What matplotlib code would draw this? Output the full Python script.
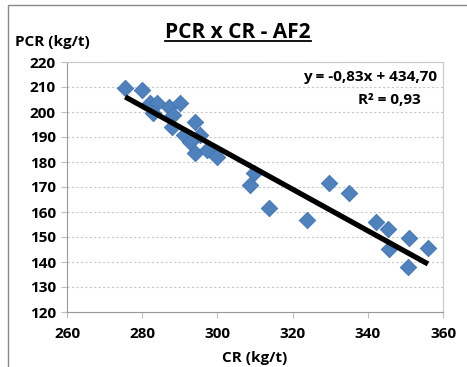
import matplotlib.pyplot as plt
import numpy as np

plt.rcParams['font.family'] = ['Open Sans', 'DejaVu Sans']
plt.rcParams['font.weight'] = 'bold'

# CR (kg/t) and PCR (kg/t)
cr = [275.5, 280.0, 282.1, 283.9, 283.0, 287.0, 290.1, 288.3, 294.1, 287.9,
      291.0, 292.8, 295.5, 294.1, 297.2, 299.9, 309.7, 308.8, 313.7, 323.9,
      329.7, 335.0, 342.1, 345.5, 345.7, 351.0, 350.6, 356.0]
pcr = [209.6, 209.0, 203.5, 203.5, 199.5, 202.0, 203.5, 198.8, 196.1, 194.1,
       190.8, 188.1, 190.8, 183.5, 184.8, 182.1, 175.5, 170.8, 161.5, 156.8,
       171.5, 167.7, 156.1, 153.1, 145.1, 149.5, 138.1, 145.5]

slope, intercept = -0.83, 434.70
x_ticks = [260, 280, 300, 320, 340, 360]
y_ticks = list(range(120, 221, 10))

fig = plt.figure(figsize=(4.67, 3.67), dpi=100)
ax = fig.add_axes([67 / 467, 1 - 312 / 367, 376 / 467, 250 / 367])

ax.scatter(cr, pcr, marker='D', s=70, color='#4F81BD', edgecolors='#3F74B3',
           linewidths=0.6, zorder=3)
xl = np.array([min(cr), max(cr)])
ax.plot(xl, slope * xl + intercept, color='black', lw=3.8, zorder=4,
        solid_capstyle='butt')

ax.set_xlim(260, 360)
ax.set_ylim(120, 220)
ax.set_xticks(x_ticks)
ax.set_yticks(y_ticks)
ax.tick_params(labelsize=11, length=4, color='#BFBFBF', width=0.8)
ax.tick_params(axis='x', pad=7)
ax.tick_params(axis='y', pad=4)
ax.grid(axis='y', color='#C8C8C8', linestyle=(0, (2, 2)), lw=0.8)
for sp in ax.spines.values():
    sp.set_color('#C8C8C8')
    sp.set_linewidth(0.8)
ax.spines['left'].set_color('#999999')
ax.spines['bottom'].set_color('#999999')

title = fig.text(238 / 467, 1 - 33 / 367, 'PCR x CR - AF2', ha='center',
                 va='center', fontsize=15, fontweight='bold')
fig.text(15 / 467, 1 - 42 / 367, 'PCR (kg/t)', ha='left', va='center',
         fontsize=11, fontweight='bold')
fig.text(255 / 467, 1 - 358 / 367, 'CR (kg/t)', ha='center', va='center',
         fontsize=11, fontweight='bold')
ax.text(0.985, 0.94, 'y = -0,83x + 434,70', transform=ax.transAxes,
        ha='right', va='center', fontsize=11, fontweight='bold')
ax.text(0.94, 0.85, 'R² = 0,93', transform=ax.transAxes,
        ha='right', va='center', fontsize=11, fontweight='bold')

# underline the title
fig.canvas.draw()
bb = title.get_window_extent().transformed(fig.transFigure.inverted())
uy = bb.y0 + 0.006
fig.add_artist(plt.Line2D([bb.x0, bb.x1], [uy, uy], color='black', lw=1.3))

# chart border
fig.add_artist(plt.Rectangle((8 / 467, -0.01), 1.2, 1 - 5 / 367 + 0.01,
                             transform=fig.transFigure, fill=False,
                             edgecolor='#888888', lw=1))

fig.savefig('out.png', dpi=100)
